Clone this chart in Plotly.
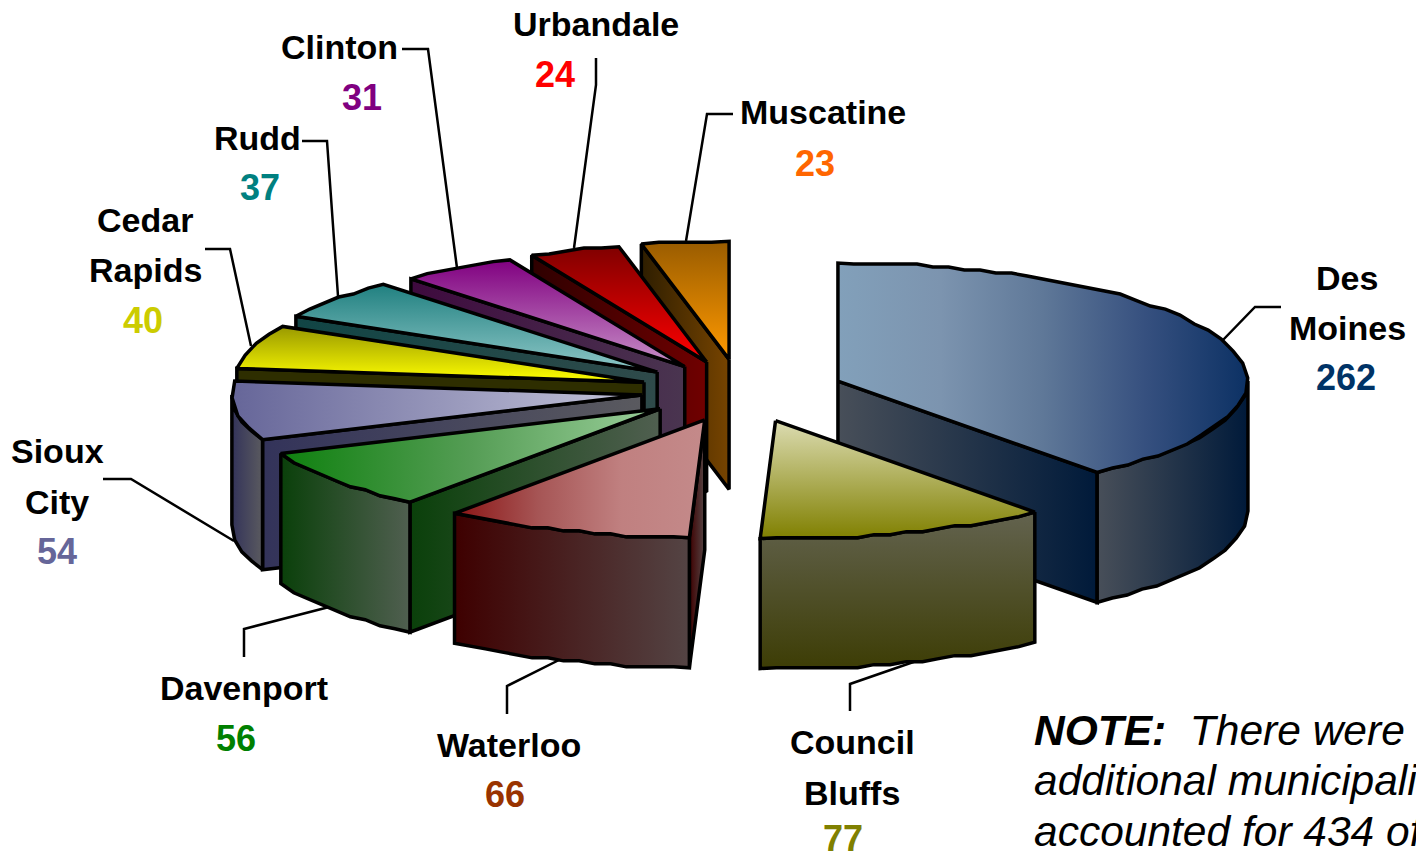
import numpy as np
import plotly.graph_objects as go

# ---------- data ----------
cities = ["Des Moines", "Council Bluffs", "Waterloo", "Davenport", "Sioux City",
          "Cedar Rapids", "Rudd", "Clinton", "Urbandale", "Muscatine"]
counts = [262, 77, 66, 56, 54, 40, 37, 31, 24, 23]
pulls = [0.251, 0.265, 0.26, 0.248, 0.244, 0.248, 0.26, 0.248, 0.26, 0.27]
value_colors = ["#003366", "#808000", "#993300", "#008000", "#666699",
                "#CCCC00", "#008080", "#800080", "#FF0000", "#FF6600"]
top_dir = ["h", "v", "h", "h", "h", "v", "v", "v", "v", "v"]
top_colors = [["#82A0BA", "#7C94AF", "#5F7898", "#36507F", "#0C3164"],
              ["#DCDCB2", "#808000"],
              ["#8B1414", "#A65555", "#C08080", "#C48A8A"],
              ["#0E800E", "#559D55", "#9CD09C"],
              ["#666699", "#C5C5DA"],
              ["#999900", "#FFFF00"],
              ["#208080", "#8FC8C8"],
              ["#800080", "#C890C8"],
              ["#800000", "#FF0000"],
              ["#995C00", "#FF9900"]]
side_dir = ["h", "v", "h", "h", "h", "h", "h", "h", "h", "h"]
side_colors = [["#484F59", "#001A3A"],
               ["#63634F", "#3D3D05"],
               ["#3E0000", "#544444"],
               ["#0A400A", "#505F50"],
               ["#33335A", "#5A5A5F"],
               ["#2E2E00", "#2E2E00"],
               ["#114545", "#2F4A4A"],
               ["#3E0A3E", "#4A3550"],
               ["#2E0000", "#700000"],
               ["#2E1E00", "#774400"]]
label_lines = [["Des", "Moines"], ["Council", "Bluffs"], ["Waterloo"], ["Davenport"],
               ["Sioux", "City"], ["Cedar", "Rapids"], ["Rudd"], ["Clinton"],
               ["Urbandale"], ["Muscatine"]]
note_lines = ["<b>NOTE:</b>\u00a0 There were", "additional municipalities", "accounted for 434 of"]

# ---------- layout of the drawing ----------
W, H = 1416, 853
CX, CY = 741, 391          # pie centre
RX, RY = 410, 118          # ellipse of the top face
DEPTH = 130
OUTLINE = 3.5
FACET = 16                 # length of one facet of the coarse outline
GRID = 3                   # the original's outline is snapped to a coarse grid

label_xy = [[(1347, 278), (1347, 328)], [(852, 742), (852, 793)], [(509, 745)], [(244, 688)],
            [(57, 451), (57, 502)], [(145, 220), (145, 270)], [(257, 138)], [(339, 47)],
            [(596, 24)], [(823, 112)]]
value_xy = [(1346, 377), (843, 838), (505, 794), (236, 738), (57, 551),
            (143, 320), (260, 187), (362, 97), (555, 74), (815, 163)]
leaders = [[(1281, 307), (1255, 307), (1222, 341)], [(850, 711), (850, 684), (925, 658)],
           [(507, 714), (507, 686), (565, 657)], [(244, 657), (244, 629), (333, 606)],
           [(103, 479), (131, 479), (234, 541)], [(205, 249), (230, 249), (251, 346)],
           [(302, 141), (327, 141), (338, 296)], [(402, 49), (428, 49), (457, 268)],
           [(596, 58), (596, 85), (574, 248)], [(733, 114), (707, 114), (686, 241)]]

total = sum(counts)
edges = np.radians(np.concatenate([[0], np.cumsum(counts)]) / total * 360)


def pt(angle, ox=0.0, oy=0.0, r=1.0):
    return ox + r * RX * np.sin(angle), oy - r * RY * np.cos(angle)


def arc_points(a0, a1, ox, oy):
    """Coarse facets along the ellipse, snapped to a grid, ends kept exact."""
    fine = np.linspace(a0, a1, 400)
    fx, fy = pt(fine, ox, oy)
    seg = np.r_[0, np.cumsum(np.hypot(np.diff(fx), np.diff(fy)))]
    n = max(2, int(round(seg[-1] / FACET)) + 1)
    ang = np.interp(np.linspace(0, seg[-1], n), seg, fine)
    ax, ay = pt(ang, ox, oy)
    ay[1:-1] = np.round((ay[1:-1] - oy) / GRID) * GRID + oy
    return ax, ay


fig = go.Figure()


def face(xs, ys, direction, colors, name):
    xs, ys = np.asarray(xs, float), np.asarray(ys, float)
    horizontal = direction == "h"
    lo, hi = (xs.min(), xs.max()) if horizontal else (ys.min(), ys.max())
    stops = [[k / (len(colors) - 1), c] for k, c in enumerate(colors)]
    fig.add_trace(go.Scatter(
        x=xs.tolist(), y=ys.tolist(), mode="lines", fill="toself", name=name,
        line=dict(color="black", width=OUTLINE), hoverinfo="skip", showlegend=False,
        fillgradient=dict(type="horizontal" if horizontal else "vertical",
                          start=float(lo), stop=float(hi), colorscale=stops),
    ))


def draw_slice(i):
    a0, a1 = edges[i], edges[i + 1]
    mid = (a0 + a1) / 2
    ox, oy = pt(mid, CX, CY, pulls[i])
    # side wall that faces the viewer
    wall = a1 if mid < np.pi else a0
    ex, ey = pt(wall, ox, oy)
    if i != 1:
        face([ox, ex, ex, ox, ox], [oy, ey, ey + DEPTH, oy + DEPTH, oy],
             side_dir[i], side_colors[i], cities[i] + " wall")
    # outer rim, only the part on the near half of the ellipse
    r0, r1 = max(a0, np.pi / 2), min(a1, 3 * np.pi / 2)
    if r1 > r0:
        ax, ay = arc_points(r0, r1, ox, oy)
        face(np.r_[ax, ax[::-1], ax[0]], np.r_[ay, ay[::-1] + DEPTH, ay[0]],
             side_dir[i], side_colors[i], cities[i] + " rim")
    # top face
    ax, ay = arc_points(a0, a1, ox, oy)
    face(np.r_[ox, ax, ox], np.r_[oy, ay, oy], top_dir[i], top_colors[i], cities[i])


for i in [9, 8, 7, 6, 5, 4, 3, 2, 0, 1]:
    draw_slice(i)

# ---------- leader lines ----------
shapes = []
for pts in leaders:
    path = "M " + " L ".join(f"{x} {y}" for x, y in pts)
    shapes.append(dict(type="path", path=path, xref="x", yref="y", layer="below",
                       line=dict(color="black", width=2.5)))

# ---------- text ----------
FONT = "Liberation Sans, Arial, sans-serif"
ann = []
for lines, xy, val, vxy, col in zip(label_lines, label_xy, counts, value_xy, value_colors):
    for text, (x, y) in zip(lines, xy):
        ann.append(dict(x=x, y=y, text=f"<b>{text}</b>", showarrow=False, xanchor="center",
                        yanchor="middle", font=dict(family=FONT, size=34, color="black")))
    ann.append(dict(x=vxy[0], y=vxy[1], text=f"<b>{val}</b>", showarrow=False, xanchor="center",
                    yanchor="middle", font=dict(family=FONT, size=36, color=col)))
for text, y in zip(note_lines, [730, 780, 831]):
    ann.append(dict(x=1032, y=y, text=f"<i>{text}</i>", showarrow=False, xanchor="left",
                    yanchor="middle", align="left", font=dict(family=FONT, size=42.5, color="black")))

fig.update_layout(
    width=W, height=H, margin=dict(l=0, r=0, t=0, b=0),
    paper_bgcolor="white", plot_bgcolor="white", showlegend=False,
    xaxis=dict(range=[0, W], visible=False, fixedrange=True),
    yaxis=dict(range=[H, 0], visible=False, fixedrange=True),
    shapes=shapes, annotations=ann,
)
fig.write_html("out.html", config=dict(displayModeBar=False),
               post_script="document.body.style.margin='0';document.body.style.overflow='hidden';")
